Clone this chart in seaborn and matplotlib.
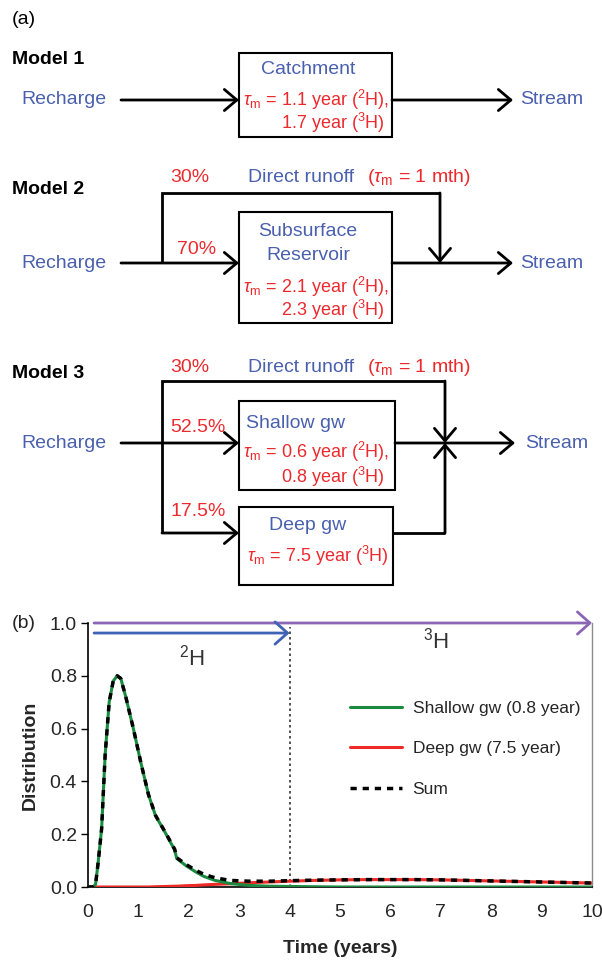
import numpy as np
import pandas as pd
import matplotlib
matplotlib.use("Agg")
import matplotlib.pyplot as plt
import seaborn as sns
from matplotlib.patches import Rectangle

# ---------------- data ----------------
time_years = [0, 0.1, 0.15, 0.2, 0.27, 0.34, 0.42, 0.5, 0.58, 0.65, 0.75, 0.9, 1.05, 1.2,
              1.34, 1.55, 1.72, 1.76, 1.95, 2.14, 2.3, 2.52, 2.82, 3.2, 3.6, 4.0, 4.5, 5,
              5.5, 6, 6.5, 7, 7.5, 8, 8.5, 9, 9.5, 10]
shallow_gw = [0, 0, 0.01, 0.09, 0.22, 0.5, 0.7, 0.78, 0.8, 0.79, 0.72, 0.6, 0.47, 0.35,
              0.27, 0.2, 0.14, 0.108, 0.08, 0.057, 0.04, 0.025, 0.013, 0.006, 0.003, 0.002, 0.001, 0,
              0, 0, 0, 0, 0, 0, 0, 0, 0, 0]
deep_gw = [0, 0, 0, 0, 0, 0, 0, 0, 0, 0, 0, 0, 0, 0,
           0.001, 0.002, 0.003, 0.003, 0.005, 0.006, 0.008, 0.01, 0.012, 0.016, 0.019, 0.022, 0.025, 0.027,
           0.028, 0.028, 0.028, 0.027, 0.025, 0.023, 0.021, 0.019, 0.017, 0.015]
sum_dist = [0, 0, 0.01, 0.09, 0.22, 0.5, 0.7, 0.78, 0.8, 0.79, 0.72, 0.6, 0.47, 0.35,
            0.271, 0.202, 0.143, 0.111, 0.085, 0.063, 0.048, 0.035, 0.025, 0.022, 0.022, 0.024, 0.026, 0.027,
            0.028, 0.028, 0.028, 0.027, 0.025, 0.023, 0.021, 0.019, 0.017, 0.015]
series_names = ["Shallow gw (0.8 year)", "Deep gw (7.5 year)", "Sum"]
x_ticks = [0, 1, 2, 3, 4, 5, 6, 7, 8, 9, 10]
y_ticks = [0.0, 0.2, 0.4, 0.6, 0.8, 1.0]
h2_window = [0.12, 4.0]
h3_window = [0.12, 10.0]

model_titles = ["Model 1", "Model 2", "Model 3"]
box_names = ["Catchment", "Subsurface", "Reservoir", "Shallow gw", "Deep gw"]
tau_lines = [[r"$\tau_{\rm m}$ = 1.1 year ($^{2}$H),", r"1.7 year ($^{3}$H)"],
             [r"$\tau_{\rm m}$ = 2.1 year ($^{2}$H),", r"2.3 year ($^{3}$H)"],
             [r"$\tau_{\rm m}$ = 0.6 year ($^{2}$H),", r"0.8 year ($^{3}$H)"],
             [r"$\tau_{\rm m}$ = 7.5 year ($^{3}$H)"]]
pct_model2 = ["30%", "70%"]
pct_model3 = ["30%", "52.5%", "17.5%"]
runoff_label = "Direct runoff"
runoff_tau = r"($\tau_{\rm m}$ = 1 mth)"

# ---------------- style ----------------
sns.set_theme(style="white")
plt.rcParams["font.family"] = ["Liberation Sans", "DejaVu Sans"]
plt.rcParams["mathtext.fontset"] = "custom"
plt.rcParams["mathtext.rm"] = "Liberation Sans"
plt.rcParams["mathtext.it"] = "Liberation Sans:italic"
plt.rcParams["mathtext.bf"] = "Liberation Sans:bold"

BLUE = "#4a60ae"
RED = "#ec2a2e"
GREEN = "#1a8a40"
LRED = "#ee2a26"
PURPLE = "#8a66b4"
ARROWBLUE = "#4062b4"
FS = 14
FS_TAU = 13

fig = plt.figure(figsize=(6.02, 9.65), dpi=100)

# ---------------- panel (a): diagram in pixel coordinates ----------------
dg = fig.add_axes([0, 0, 1, 1])
dg.set_xlim(0, 602)
dg.set_ylim(965, 0)
dg.axis("off")

LW = 2.0


def arrow(x0, y0, x1, y1):
    dg.annotate("", xy=(x1, y1), xytext=(x0, y0),
                arrowprops=dict(arrowstyle="->,head_length=0.45,head_width=0.38",
                                lw=LW, color="black", shrinkA=0, shrinkB=0,
                                mutation_scale=20))


def poly(xs, ys):
    dg.plot(xs, ys, color="black", lw=LW, solid_joinstyle="miter", solid_capstyle="butt")


def box(x0, y0, x1, y1):
    dg.add_patch(Rectangle((x0, y0), x1 - x0, y1 - y0, fill=False, ec="black", lw=1.5))


def blue(x, y, s, ha="left", **kw):
    dg.text(x, y, s, color=BLUE, fontsize=FS, ha=ha, va="center", **kw)


def red(x, y, s, ha="left", size=FS, **kw):
    dg.text(x, y, s, color=RED, fontsize=size, ha=ha, va="center", **kw)


dg.text(12, 19, "(a)", fontsize=FS, va="center", ha="left", color="black")

# Model 1
dg.text(12, 60, model_titles[0], fontsize=FS, fontweight="bold", va="center", color="black")
blue(21, 100, "Recharge")
arrow(121, 100, 239, 100)
box(239, 53, 392, 137)
blue(308, 69, box_names[0], ha="center")
red(389, 100, tau_lines[0][0], ha="right", size=FS_TAU)
red(385, 123, tau_lines[0][1], ha="right", size=FS_TAU)
arrow(392, 100, 513, 100)
blue(520, 100, "Stream")

# Model 2
dg.text(12, 189, model_titles[1], fontsize=FS, fontweight="bold", va="center", color="black")
red(170, 178, pct_model2[0])
blue(248, 178, runoff_label)
red(367, 178, runoff_tau)
blue(21, 263, "Recharge")
poly([162, 162, 440], [263, 193, 193])
arrow(440, 193, 440, 263)
arrow(121, 263, 239, 263)
red(177, 249, pct_model2[1])
box(239, 212, 392, 323)
blue(308, 232, box_names[1], ha="center")
blue(308, 255, box_names[2], ha="center")
red(389, 287, tau_lines[1][0], ha="right", size=FS_TAU)
red(385, 310, tau_lines[1][1], ha="right", size=FS_TAU)
arrow(392, 263, 513, 263)
blue(520, 263, "Stream")

# Model 3
dg.text(12, 374, model_titles[2], fontsize=FS, fontweight="bold", va="center", color="black")
red(170, 367, pct_model3[0])
blue(248, 367, runoff_label)
red(367, 367, runoff_tau)
blue(21, 443, "Recharge")
poly([162, 162, 445], [533, 381, 381])
arrow(445, 381, 445, 443)
poly([393, 445], [533, 533])
arrow(445, 533, 445, 443)
arrow(121, 443, 239, 443)
arrow(162, 533, 239, 533)
box(239, 401, 395, 490)
box(239, 507, 393, 585)
red(170, 427, pct_model3[1])
red(170, 512, pct_model3[2])
blue(246, 423, box_names[3])
red(389, 452, tau_lines[2][0], ha="right", size=FS_TAU)
red(385, 477, tau_lines[2][1], ha="right", size=FS_TAU)
blue(308, 526, box_names[4], ha="center")
red(389, 556, tau_lines[3][0], ha="right", size=FS_TAU)
arrow(395, 443, 515, 443)
blue(525, 443, "Stream")

fig.text(12 / 602, 1 - 624 / 965, "(b)", fontsize=FS, va="center", ha="left")

# ---------------- panel (b): distributions ----------------
ax = fig.add_axes([88 / 602, 1 - 887 / 965, 504 / 602, 264 / 965])
df = pd.DataFrame({
    "Time": time_years * 3,
    "Distribution": shallow_gw + deep_gw + sum_dist,
    "Series": [series_names[0]] * len(time_years) + [series_names[1]] * len(time_years)
              + [series_names[2]] * len(time_years),
})
sns.lineplot(data=df[df.Series == series_names[1]], x="Time", y="Distribution", ax=ax,
             color=LRED, lw=2.2, label=series_names[1], zorder=3)
sns.lineplot(data=df[df.Series == series_names[0]], x="Time", y="Distribution", ax=ax,
             color=GREEN, lw=2.2, label=series_names[0], zorder=4)
sns.lineplot(data=df[df.Series == series_names[2]], x="Time", y="Distribution", ax=ax,
             color="black", lw=2.5, label=series_names[2], zorder=5,
             linestyle=(0, (1.8, 1.7)))

ax.set_xlim(0, 10)
ax.set_ylim(0, 1.0)
ax.set_xticks(x_ticks)
ax.set_yticks(y_ticks)
ax.set_yticklabels([f"{v:.1f}" for v in y_ticks])
ax.tick_params(axis="y", left=True, length=5, width=1, color="black", labelsize=FS, pad=3)
ax.tick_params(axis="x", bottom=False, labelsize=FS, pad=6)
ax.set_xlabel("Time (years)", fontsize=FS, fontweight="bold", labelpad=14)
ax.set_ylabel("Distribution", fontsize=FS, fontweight="bold", labelpad=8)
for s in ["left", "bottom"]:
    ax.spines[s].set_color("black")
    ax.spines[s].set_linewidth(1.2)
ax.spines["right"].set_color("#8c8c8c")
ax.spines["right"].set_linewidth(1.0)
ax.spines["top"].set_visible(False)

ax.vlines(4.0, 0, 0.985, colors="#333333", linestyles=(0, (1.5, 1.8)), lw=1.2, zorder=2)
ax.annotate("", xy=(h3_window[1], 1.0), xytext=(h3_window[0], 1.0), annotation_clip=False,
            arrowprops=dict(arrowstyle="->,head_length=0.45,head_width=0.4", lw=2.0,
                            color=PURPLE, shrinkA=0, shrinkB=0, mutation_scale=20))
ax.annotate("", xy=(h2_window[1], 0.962), xytext=(h2_window[0], 0.962), annotation_clip=False,
            arrowprops=dict(arrowstyle="->,head_length=0.45,head_width=0.4", lw=2.0,
                            color=ARROWBLUE, shrinkA=0, shrinkB=0, mutation_scale=20))
ax.text(2.06, 0.87, r"$^{2}$H", fontsize=FS + 2, ha="center", va="center", color="#333333")
ax.text(6.9, 0.935, r"$^{3}$H", fontsize=FS + 2, ha="center", va="center", color="#333333")

h, l = ax.get_legend_handles_labels()
order = [l.index(n) for n in series_names]
ax.legend([h[i] for i in order], [l[i] for i in order], loc="upper left",
          bbox_to_anchor=(0.52, 0.705), frameon=False, fontsize=12.5,
          handlelength=3.0, handletextpad=0.6, labelspacing=1.45,
          borderpad=0, borderaxespad=0)

fig.savefig("out.png", dpi=100)
